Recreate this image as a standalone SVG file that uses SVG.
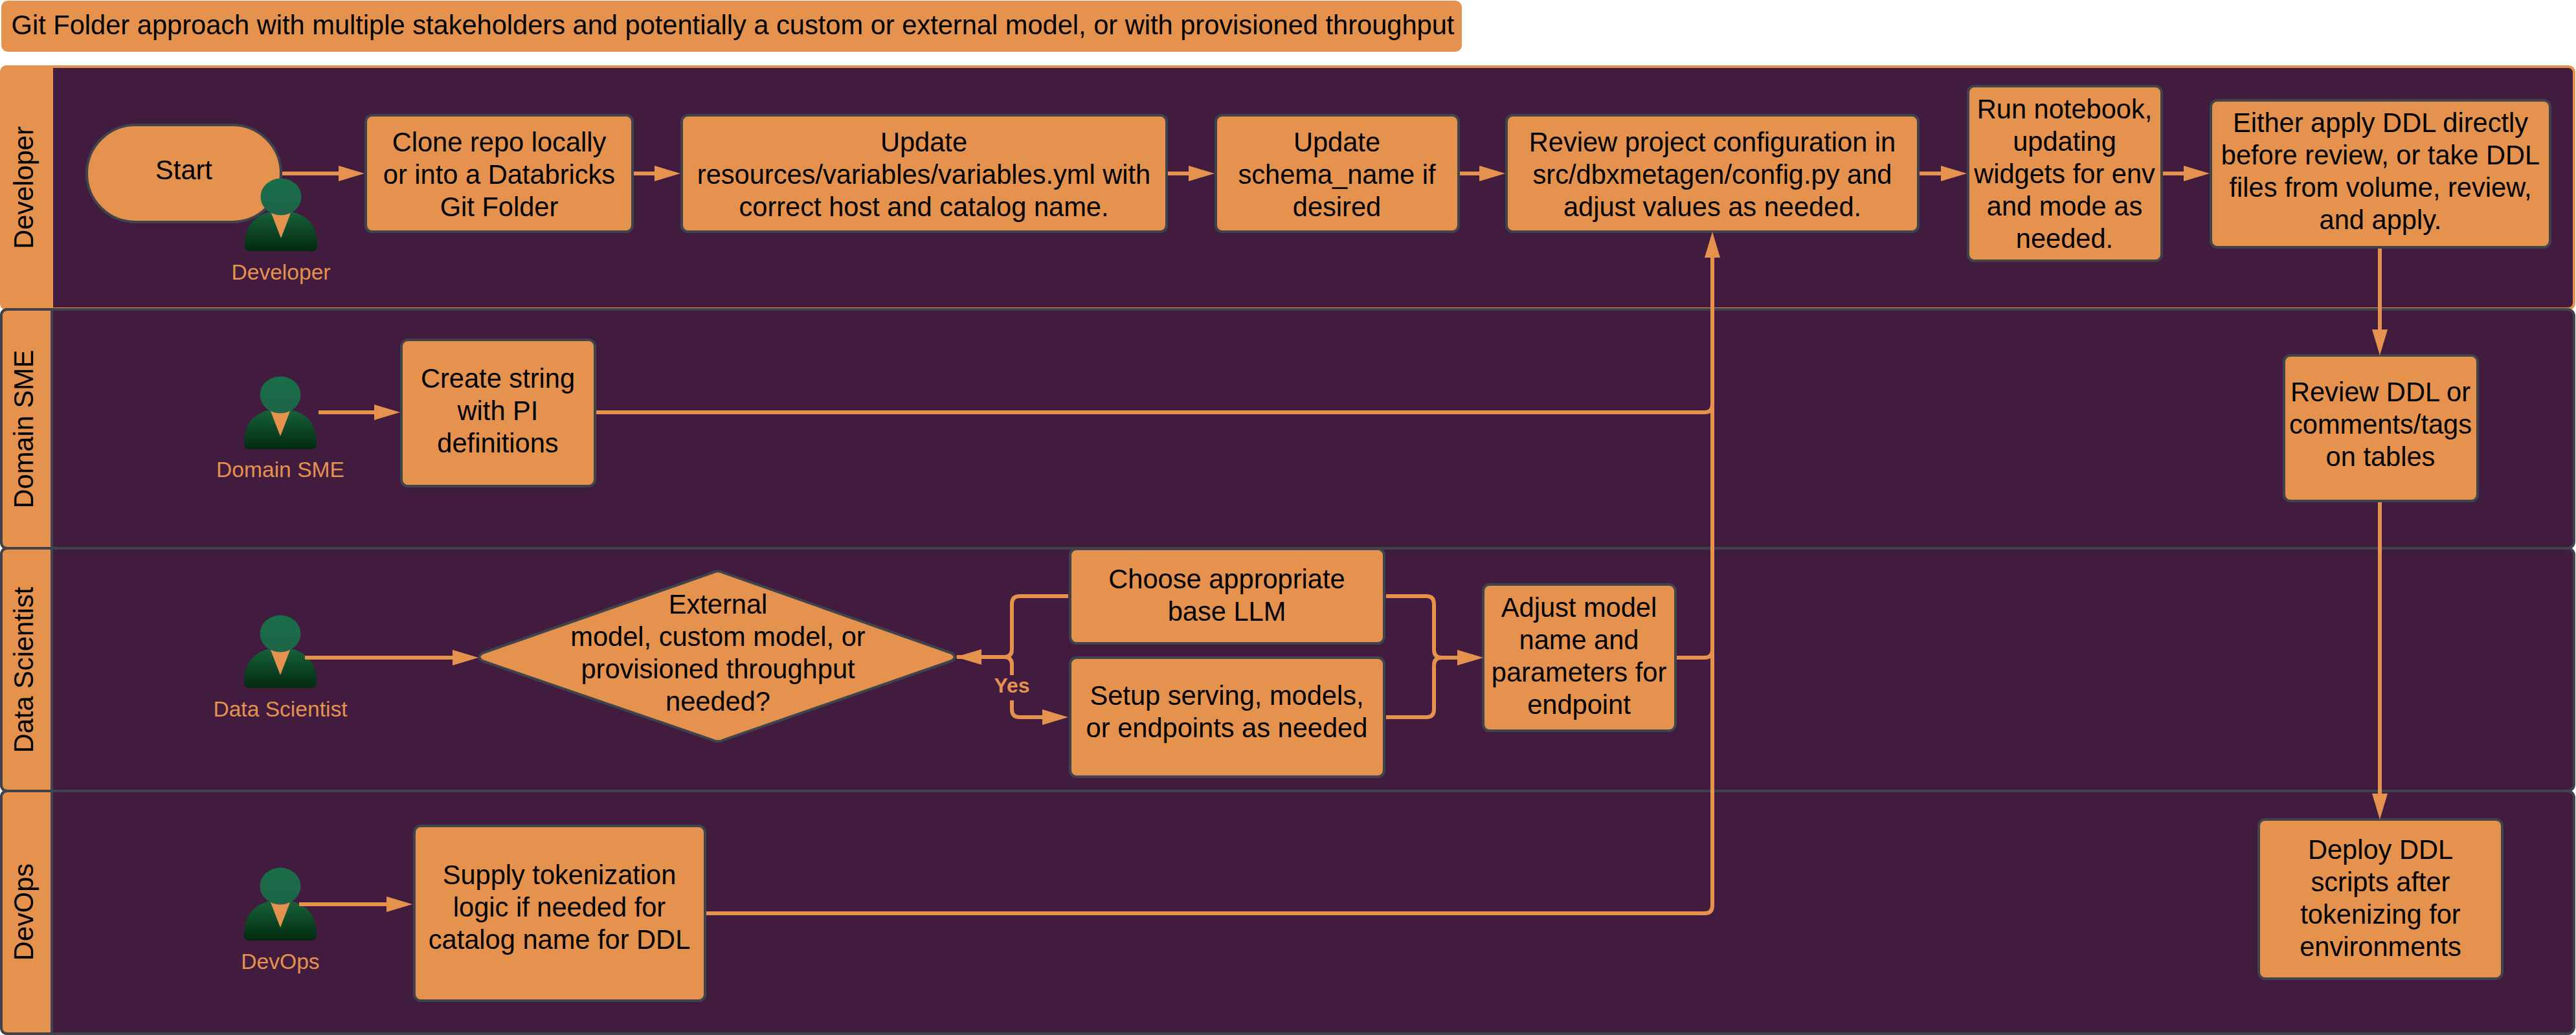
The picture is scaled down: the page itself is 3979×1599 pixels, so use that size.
<svg xmlns="http://www.w3.org/2000/svg" xmlns:xlink="http://www.w3.org/1999/xlink" width="3979" height="1599" viewBox="0 0 3979 1599">
<style>
text{font-family:"Liberation Sans",Arial,sans-serif;font-size:41.6px;fill:#000;text-anchor:middle}
.lane{fill:#411c3f;stroke:#3f444c;stroke-width:4}
.hdr{fill:#e5924f;stroke:#3f444c;stroke-width:4}
.box{fill:#e5924f;stroke:#3f444c;stroke-width:4}
.who{font-size:33.6px;fill:#e5924f}
.con{fill:none;stroke:#e5924f;stroke-width:6}
.arr{marker-end:url(#ah)}
</style>
<defs>
<marker id="ah" markerUnits="userSpaceOnUse" viewBox="0 0 40 24" markerWidth="40" markerHeight="24" refX="20" refY="12" orient="auto"><path d="M0 0L40 12L0 24Z" fill="#e5924f"/></marker>
<linearGradient id="gb" x1="0" y1="0" x2="0" y2="1"><stop offset="0" stop-color="#17613a"/><stop offset="1" stop-color="#03290f"/></linearGradient>
<linearGradient id="gh" x1="0" y1="0" x2="0" y2="1"><stop offset="0" stop-color="#196e49"/><stop offset="1" stop-color="#1e6449"/></linearGradient>
<g id="person">
<path d="M-48 84Q-56 84 -56 76C-56 50 -46 32 -20 24L20 24C46 32 56 50 56 76Q56 84 48 84Z" fill="url(#gb)"/>
<path d="M-17 20L17 20L0 64Z" fill="#e5924f"/>
<ellipse cx="0" cy="0" rx="31.5" ry="28.5" fill="url(#gh)"/>
</g>
</defs>
<rect width="3979" height="1599" fill="#fff"/>
<g id="title"><rect x="2" y="1" width="2256" height="79" rx="10" fill="#e5924f"/><text x="1132" y="53">Git Folder approach with multiple stakeholders and potentially a custom or external model, or with provisioned throughput</text></g>
<g id="lane-developer"><path d="M12 103H3966Q3976 103 3976 113V467Q3976 477 3966 477H12Q2 477 2 467V113Q2 103 12 103Z" fill="#411c3f" stroke="#e5924f" stroke-width="4"/><path d="M80 103H12Q2 103 2 113V467Q2 477 12 477H80Z" fill="#e5924f" stroke="#e5924f" stroke-width="4"/><text transform="translate(51 290) rotate(-90)">Developer</text></g>
<g id="lane-domain-sme"><rect class="lane" x="2" y="478" width="3974" height="369" rx="10"/><path class="hdr" d="M80 478H12Q2 478 2 488V837Q2 847 12 847H80Z"/><text transform="translate(51 663) rotate(-90)">Domain SME</text></g>
<g id="lane-data-scientist"><rect class="lane" x="2" y="847" width="3974" height="375" rx="10"/><path class="hdr" d="M80 847H12Q2 847 2 857V1212Q2 1222 12 1222H80Z"/><text transform="translate(51 1035) rotate(-90)">Data Scientist</text></g>
<g id="lane-devops"><rect class="lane" x="2" y="1222" width="3974" height="375" rx="10"/><path class="hdr" d="M80 1222H12Q2 1222 2 1232V1587Q2 1597 12 1597H80Z"/><text transform="translate(51 1409) rotate(-90)">DevOps</text></g>

<g id="n-start"><rect class="box" x="134" y="193" width="300" height="150" rx="75"/><text x="284" y="277">Start</text></g>
<g id="p-developer"><use href="#person" xlink:href="#person" x="434" y="304"/><text class="who" x="434" y="432">Developer</text></g>
<g id="n-clone"><rect class="box" x="565" y="178" width="412" height="180" rx="10"/><text x="771" y="234">Clone repo locally</text><text x="771" y="284">or into a Databricks</text><text x="771" y="334">Git Folder</text></g>
<g id="n-update-vars"><rect class="box" x="1053" y="178" width="749" height="180" rx="10"/><text x="1427" y="234">Update</text><text x="1427" y="284">resources/variables/variables.yml with</text><text x="1427" y="334">correct host and catalog name.</text></g>
<g id="n-schema"><rect class="box" x="1878" y="178" width="375" height="180" rx="10"/><text x="2065" y="234">Update</text><text x="2065" y="284">schema_name if</text><text x="2065" y="334">desired</text></g>
<g id="n-review-config"><rect class="box" x="2327" y="178" width="636" height="180" rx="10"/><text x="2645" y="234">Review project configuration in</text><text x="2645" y="284">src/dbxmetagen/config.py and</text><text x="2645" y="334">adjust values as needed.</text></g>
<g id="n-run"><rect class="box" x="3040" y="133" width="299" height="270" rx="10"/><text x="3189" y="183">Run notebook,</text><text x="3189" y="233">updating</text><text x="3189" y="283">widgets for env</text><text x="3189" y="333">and mode as</text><text x="3189" y="383">needed.</text></g>
<g id="n-apply"><rect class="box" x="3415" y="155" width="524" height="227" rx="10"/><text x="3677" y="204">Either apply DDL directly</text><text x="3677" y="254">before review, or take DDL</text><text x="3677" y="304">files from volume, review,</text><text x="3677" y="354">and apply.</text></g>

<g id="p-domain"><use href="#person" xlink:href="#person" x="433" y="610"/><text class="who" x="433" y="737">Domain SME</text></g>
<g id="n-pi"><rect class="box" x="620" y="525" width="299" height="226" rx="10"/><text x="769" y="599">Create string</text><text x="769" y="649">with PI</text><text x="769" y="699">definitions</text></g>
<g id="n-review-ddl"><rect class="box" x="3528" y="549" width="299" height="225" rx="10"/><text x="3677" y="620">Review DDL or</text><text x="3677" y="670">comments/tags</text><text x="3677" y="720">on tables</text></g>

<g id="p-scientist"><use href="#person" xlink:href="#person" x="433" y="979"/><text class="who" x="433" y="1107">Data Scientist</text></g>
<g id="n-decision"><path class="box" d="M1100 885Q1109 880 1118 885L1470 1009Q1479 1015 1470 1021L1118 1143Q1109 1148 1100 1143L745 1021Q736 1015 745 1009Z"/><text x="1109" y="948">External</text><text x="1109" y="998">model, custom model, or</text><text x="1109" y="1048">provisioned throughput</text><text x="1109" y="1098">needed?</text></g>
<g id="n-llm"><rect class="box" x="1653" y="848" width="485" height="146" rx="10"/><text x="1895" y="909">Choose appropriate</text><text x="1895" y="959">base LLM</text></g>
<g id="n-serving"><rect class="box" x="1653" y="1016" width="485" height="184" rx="10"/><text x="1895" y="1089">Setup serving, models,</text><text x="1895" y="1139">or endpoints as needed</text></g>
<g id="n-adjust"><rect class="box" x="2291" y="903" width="297" height="226" rx="10"/><text x="2439" y="953">Adjust model</text><text x="2439" y="1003">name and</text><text x="2439" y="1053">parameters for</text><text x="2439" y="1103">endpoint</text></g>

<g id="p-devops"><use href="#person" xlink:href="#person" x="433" y="1369"/><text class="who" x="433" y="1497">DevOps</text></g>
<g id="n-token"><rect class="box" x="640" y="1276" width="449" height="270" rx="10"/><text x="864" y="1366">Supply tokenization</text><text x="864" y="1416">logic if needed for</text><text x="864" y="1466">catalog name for DDL</text></g>
<g id="n-deploy"><rect class="box" x="3489" y="1266" width="376" height="246" rx="10"/><text x="3677" y="1327">Deploy DDL</text><text x="3677" y="1377">scripts after</text><text x="3677" y="1427">tokenizing for</text><text x="3677" y="1477">environments</text></g>

<g id="connectors">
<path class="con arr" d="M436 268H543"/>
<path class="con arr" d="M979 268H1031"/>
<path class="con arr" d="M1804 268H1856"/>
<path class="con arr" d="M2255 268H2305"/>
<path class="con arr" d="M2965 268H3018"/>
<path class="con arr" d="M3341 268H3393"/>
<path class="con arr" d="M3676 384V529"/>
<path class="con arr" d="M3676 776V1246"/>
<path class="con arr" d="M492 637H598"/>
<path class="con" d="M921 637H2633Q2645 637 2645 625"/>
<path class="con arr" d="M2645 1399V378"/>
<path class="con" d="M2590 1016H2633Q2645 1016 2645 1004"/>
<path class="con" d="M1091 1411H2633Q2645 1411 2645 1399"/>
<path class="con arr" d="M471 1016H719"/>
<path class="con arr" d="M1650 921H1575Q1563 921 1563 933V1003Q1563 1015 1551 1015H1496"/>
<path class="con" d="M1478 1015H1551Q1563 1015 1563 1027V1043"/>
<path class="con arr" d="M1563 1082V1096Q1563 1108 1575 1108H1630"/>
<text id="yes" x="1563" y="1070" style="font-size:32px;font-weight:bold;fill:#e5924f">Yes</text>
<path class="con" d="M2141 921H2203Q2215 921 2215 933V1004Q2215 1016 2227 1016"/>
<path class="con arr" d="M2141 1108H2203Q2215 1108 2215 1096V1028Q2215 1016 2227 1016H2271"/>
<path class="con arr" d="M462 1397H617"/>
</g>
</svg>
